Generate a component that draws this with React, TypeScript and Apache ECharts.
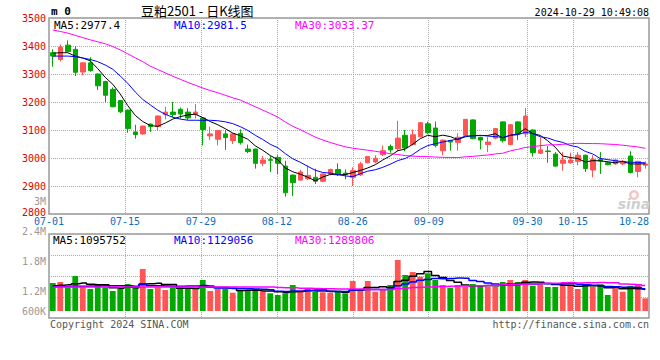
import React, { useEffect, useRef } from 'react';
import * as echarts from 'echarts';

// ---------- data ----------
const DATES = [
  '07-01','07-02','07-03','07-04','07-05','07-08','07-09','07-10','07-11','07-12',
  '07-15','07-16','07-17','07-18','07-19','07-22','07-23','07-24','07-25','07-26',
  '07-29','07-30','07-31','08-01','08-02','08-05','08-06','08-07','08-08','08-09',
  '08-12','08-13','08-14','08-15','08-16','08-19','08-20','08-21','08-22','08-23',
  '08-26','08-27','08-28','08-29','08-30','09-02','09-03','09-04','09-05','09-06',
  '09-09','09-10','09-11','09-12','09-13','09-18','09-19','09-20','09-23','09-24',
  '09-25','09-26','09-27','09-30','10-08','10-09','10-10','10-11','10-14','10-15',
  '10-16','10-17','10-18','10-21','10-22','10-23','10-24','10-25','10-28','10-29',
];
const OPEN = [
  3376,3352,3403,3388,3307,3340,3300,3273,3245,3205,
  3171,3093,3086,3121,3112,3155,3164,3174,3164,3155,
  3143,3079,3067,3086,3062,3088,3032,3032,2981,2994,
  3002,2971,2939,2921,2926,2931,2917,2943,2959,2946,
  2931,2940,2983,2986,3012,3041,3033,3081,3048,3076,
  3122,3107,3026,3062,3055,3081,3136,3074,3048,3071,
  3129,3048,3129,3086,3100,3017,3025,3014,2981,2983,
  2988,3010,2957,2995,2983,2979,2979,3007,2952,2974,
];
const CLOSE = [
  3364,3396,3380,3306,3340,3312,3258,3224,3183,3165,
  3105,3084,3114,3112,3150,3164,3155,3157,3143,3164,
  3102,3086,3098,3073,3086,3055,3023,2981,2993,2992,
  2981,2876,2912,2950,2938,2917,2943,2959,2943,2941,
  2955,2979,3005,2999,3026,3029,3071,3036,3083,3126,
  3090,3045,3064,3057,3074,3138,3069,3064,3057,3105,
  3062,3119,3086,3150,3019,3029,3023,2971,2993,2993,
  3010,2962,2995,2989,2976,2993,2988,2948,2988,2979,
];
const HIGH = [
  3388,3405,3420,3400,3342,3360,3302,3276,3252,3207,
  3173,3119,3116,3123,3152,3183,3200,3180,3178,3193,
  3145,3112,3100,3100,3089,3102,3048,3033,3007,3007,
  3010,2990,2941,2957,2974,2962,2945,2962,2981,2959,
  2967,2986,3007,3010,3045,3048,3133,3100,3102,3129,
  3130,3130,3066,3064,3088,3140,3138,3076,3076,3107,
  3131,3121,3131,3179,3102,3074,3043,3021,3021,3019,
  3021,3012,3010,3021,2988,2995,2993,3024,2990,2988,
];
const LOW = [
  3326,3345,3378,3293,3296,3308,3243,3200,3181,3160,
  3090,3069,3083,3093,3098,3138,3145,3141,3136,3141,
  3045,3064,3045,3029,3050,3048,3017,2962,2971,2950,
  2943,2862,2864,2919,2921,2907,2914,2938,2936,2924,
  2900,2936,2981,2981,3007,3019,3024,3024,3045,3074,
  3086,3038,3010,3026,3026,3079,3067,3031,3021,3067,
  3055,3045,3064,3074,3005,3014,2983,2969,2955,2979,
  2974,2950,2931,2943,2974,2976,2974,2945,2931,2962,
];
const VOLUME = [
  1414000,1465000,1197000,1768000,1227000,1111000,1313000,1197000,1010000,1111000,
  1364000,1197000,2121000,1111000,1197000,1061000,1197000,1197000,1111000,1111000,
  1566000,1010000,1111000,1111000, 924000,1010000,1061000,1111000, 975000, 894000,
   808000, 894000,1313000,1025000,1111000, 975000, 944000, 924000, 975000, 894000,
  1515000,1025000,1515000, 975000,1096000,1313000,2576000,1818000,1970000,1732000,
  1904000,1566000,1313000,1177000,1313000,1227000,1364000,1313000,1227000,1227000,
  1465000,1566000,1465000,1566000,1278000,1399000,1212000,1212000,1414000,1278000,
  1111000,1348000,1227000,1348000, 808000,1263000, 975000,1263000,1313000, 641000,
];

// moving-average values before enough in-window data exists
const PRICE_MA5_HEAD = [3374, 3376, 3376, 3364];
const PRICE_MA10_HEAD = [3364, 3364, 3364, 3362, 3357, 3352, 3344, 3332, 3317];
const PRICE_MA30_HEAD = [
  3457, 3452, 3446, 3438, 3430, 3422, 3415, 3408, 3398, 3386,
  3372, 3358, 3344, 3328, 3316, 3304, 3292, 3281, 3270, 3260,
  3250, 3241, 3233, 3224, 3215, 3207, 3195, 3183, 3171,
];
const VOL_MA5_HEAD = [1270000, 1300000, 1320000, 1380000];
const VOL_MA10_HEAD = [1230000, 1235000, 1240000, 1250000, 1255000, 1262000, 1268000, 1272000, 1278000];
const VOL_MA30_HEAD = [
  1215000, 1214000, 1216000, 1213000, 1214000, 1212000, 1213000, 1211000, 1210000, 1212000,
  1211000, 1210000, 1216000, 1214000, 1212000, 1211000, 1210000, 1211000, 1209000, 1210000,
  1212000, 1210000, 1209000, 1210000, 1208000, 1207000, 1208000, 1208000, 1207000,
];

const DATE_TICKS = ['07-01', '07-15', '07-29', '08-12', '08-26', '09-09', '09-30', '10-15', '10-28'];
const PRICE_MIN = 2800;
const PRICE_MAX = 3500;
const PRICE_STEP = 100;
const VOL_AXIS_MAX = 3890000;
const VOL_TICK_LABELS = ['600K', '1.2M', '1.8M', '2.4M'];
const PRICE_LEGEND = ['MA5:2977.4', 'MA10:2981.5', 'MA30:3033.37'];
const VOL_LEGEND = ['MA5:1095752', 'MA10:1129056', 'MA30:1289806'];
const TITLE = '豆粕2501 - 日K线图';
const CODE = 'm 0';
const TIMESTAMP = '2024-10-29 10:49:08';
const STRAY_LABEL = '3M';
const FOOTER_LEFT = 'Copyright 2024 SINA.COM';
const FOOTER_RIGHT = 'http://finance.sina.com.cn';

// ---------- helpers ----------
const movingAverage = (vals: number[], n: number, head: number[]) =>
  vals.map((_, i) =>
    i < n - 1 ? head[i] : vals.slice(i - n + 1, i + 1).reduce((a, b) => a + b, 0) / n
  );

const UP = '#ff5555';
const DOWN = '#00a800';
const MA_COLORS = ['#000000', '#0000ff', '#ff00ff'];
const MONO = '"DejaVu Sans Mono", monospace';
const GRID_LINE = { color: '#aaaaaa', type: 'dotted' as const, width: 1 };

// boundary labels: one slot per category boundary (80 slots for 79 gaps)
const N = DATES.length;
const BOUNDARY: string[] = new Array(N).fill('');
DATE_TICKS.forEach((d, k) => {
  const j = k === DATE_TICKS.length - 1 ? N - 1 : DATES.indexOf(d);
  BOUNDARY[j] = d;
});

export default function App() {
  const ref = useRef<HTMLDivElement>(null);

  useEffect(() => {
    const chart = echarts.init(ref.current!, null, { renderer: 'svg' });

    const candles = DATES.map((_, i) => [OPEN[i], CLOSE[i], LOW[i], HIGH[i]]);
    const pMA = [
      movingAverage(CLOSE, 5, PRICE_MA5_HEAD),
      movingAverage(CLOSE, 10, PRICE_MA10_HEAD),
      movingAverage(CLOSE, 30, PRICE_MA30_HEAD),
    ];
    const vMA = [
      movingAverage(VOLUME, 5, VOL_MA5_HEAD),
      movingAverage(VOLUME, 10, VOL_MA10_HEAD),
      movingAverage(VOLUME, 30, VOL_MA30_HEAD),
    ];
    const volBars = VOLUME.map((v, i) => ({
      value: v,
      itemStyle: { color: CLOSE[i] > OPEN[i] ? UP : DOWN },
    }));

    const boundaryAxis = (gridIndex: number, showLabels: boolean) => ({
      type: 'category',
      gridIndex,
      position: 'bottom',
      data: BOUNDARY,
      boundaryGap: false,
      axisLine: { show: false },
      axisTick: { show: false },
      axisLabel: {
        show: showLabels,
        interval: (_i: number, v: string) => v !== '',
        color: '#0a6fc2',
        fontFamily: MONO,
        fontSize: 10,
        lineHeight: 9,
        margin: 3,
        formatter: (v: string, i: number) => (i === N - 1 ? `{r|${v}}` : v),
        rich: {
          r: { padding: [0, 30, 0, 0], color: '#0a6fc2', fontFamily: MONO, fontSize: 10, lineHeight: 9 },
        },
      },
      splitLine: {
        show: true,
        interval: (i: number, v: string) => v !== '' && i !== 0 && i !== N - 1,
        lineStyle: GRID_LINE,
      },
    });

    const text = (t: string, x: number, y: number, fill: string, font: string, align = 'left') => ({
      type: 'text',
      x,
      y,
      silent: true,
      style: { text: t, fill, font, align, verticalAlign: 'middle' },
    });

    const gridBase = { left: 49, width: 600, outerBoundsMode: 'none', containLabel: false };

    const option: any = {
      animation: false,
      backgroundColor: '#ffffff',
      textStyle: { fontFamily: MONO },
      grid: [
        { ...gridBase, top: 18, height: 196, show: true, borderColor: '#999', borderWidth: 1.5 },
        { ...gridBase, top: 234, height: 84, show: true, borderColor: '#999', borderWidth: 1.5 },
        { ...gridBase, top: 234, height: 77 },
        { ...gridBase, top: 231, height: 90 },
      ],
      xAxis: [
        {
          type: 'category', gridIndex: 0, position: 'bottom', data: DATES, boundaryGap: true,
          axisLine: { show: false }, axisTick: { show: false }, axisLabel: { show: false }, splitLine: { show: false },
        },
        boundaryAxis(0, true),
        boundaryAxis(1, false),
        {
          type: 'category', gridIndex: 2, position: 'bottom', data: DATES, boundaryGap: true,
          axisLine: { show: false }, axisTick: { show: false }, axisLabel: { show: false }, splitLine: { show: false },
        },
        { type: 'value', gridIndex: 3, show: false },
      ],
      yAxis: [
        {
          type: 'value', gridIndex: 0, min: PRICE_MIN, max: PRICE_MAX, interval: PRICE_STEP,
          axisLine: { show: false }, axisTick: { show: false },
          axisLabel: {
            color: '#e00000', fontFamily: MONO, fontSize: 10, lineHeight: 10, margin: 3,
            formatter: (v: number) => (v === PRICE_MIN ? `{b|${v}}` : String(v)),
            rich: { b: { padding: [0, 0, 3, 0], color: '#e00000', fontFamily: MONO, fontSize: 10, lineHeight: 10 } },
          },
          splitLine: { show: true, lineStyle: GRID_LINE },
        },
        {
          type: 'value', gridIndex: 1, min: 0, max: 4, interval: 1,
          axisLine: { show: false }, axisTick: { show: false }, axisLabel: { show: false },
          splitLine: { show: true, lineStyle: GRID_LINE },
        },
        {
          type: 'value', gridIndex: 2, min: 0, max: VOL_AXIS_MAX, show: false,
          splitLine: { show: false },
        },
        {
          type: 'category', gridIndex: 3, data: VOL_TICK_LABELS, boundaryGap: false,
          axisLine: { show: false }, axisTick: { show: false }, splitLine: { show: false },
          axisLabel: {
            color: '#999999', fontFamily: MONO, fontSize: 10, lineHeight: 10, margin: 3, interval: 0,
            formatter: (v: string, i: number) => (i === 0 ? `{b|${v}}` : v),
            rich: {
              b: { padding: [0, 0, 20, 0], color: '#999999', fontFamily: MONO, fontSize: 10, lineHeight: 10 },
            },
          },
        },
      ],
      series: [
        {
          type: 'candlestick', xAxisIndex: 0, yAxisIndex: 0, data: candles, barWidth: 5,
          itemStyle: { color: UP, color0: DOWN, borderColor: UP, borderColor0: DOWN, borderWidth: 1 },
          z: 2,
        },
        ...pMA.map((d, k) => ({
          type: 'line', xAxisIndex: 0, yAxisIndex: 0, data: d, showSymbol: false, symbol: 'none',
          lineStyle: { color: MA_COLORS[k], width: 1 }, z: 3,
        })),
        {
          type: 'bar', xAxisIndex: 3, yAxisIndex: 2, data: volBars, barWidth: 5.8, z: 2,
        },
        ...vMA.map((d, k) => ({
          type: 'line', xAxisIndex: 3, yAxisIndex: 2, data: d, showSymbol: false, symbol: 'none',
          step: 'middle', lineStyle: { color: MA_COLORS[k], width: 1.5 }, z: 3,
        })),
      ],
      graphic: [
        text(CODE, 51, 11, '#000', `bold 11px ${MONO}`),
        text(TITLE, 141, 10, '#000', '13px "Noto Sans CJK SC"'),
        text(TIMESTAMP, 649, 12, '#000', `10px ${MONO}`, 'right'),
        text(PRICE_LEGEND[0], 54, 25, MA_COLORS[0], `11px ${MONO}`),
        text(PRICE_LEGEND[1], 174, 25, MA_COLORS[1], `11px ${MONO}`),
        text(PRICE_LEGEND[2], 295, 25, MA_COLORS[2], `11px ${MONO}`),
        text(VOL_LEGEND[0], 53, 240, MA_COLORS[0], `11px ${MONO}`),
        text(VOL_LEGEND[1], 174, 240, MA_COLORS[1], `11px ${MONO}`),
        text(VOL_LEGEND[2], 295, 240, MA_COLORS[2], `11px ${MONO}`),
        text(STRAY_LABEL, 46, 201, '#999999', `10px ${MONO}`, 'right'),
        text(FOOTER_LEFT, 50, 324, '#555555', `10px ${MONO}`),
        text(FOOTER_RIGHT, 649, 324, '#555555', `10px ${MONO}`, 'right'),
        {
          type: 'ring', silent: true, shape: { cx: 634, cy: 195, r: 5, r0: 2.5 },
          style: { fill: '#f6c4c4' },
        },
        text('sina', 634, 204, '#cfcfcf', 'bold italic 14px "DejaVu Sans"', 'center'),
      ],
    };

    chart.setOption(option);
    return () => chart.dispose();
  }, []);

  return (
    <div
      ref={ref}
      style={{ position: 'absolute', left: 0, top: 0, width: 660, height: 360, background: '#fff' }}
    />
  );
}
